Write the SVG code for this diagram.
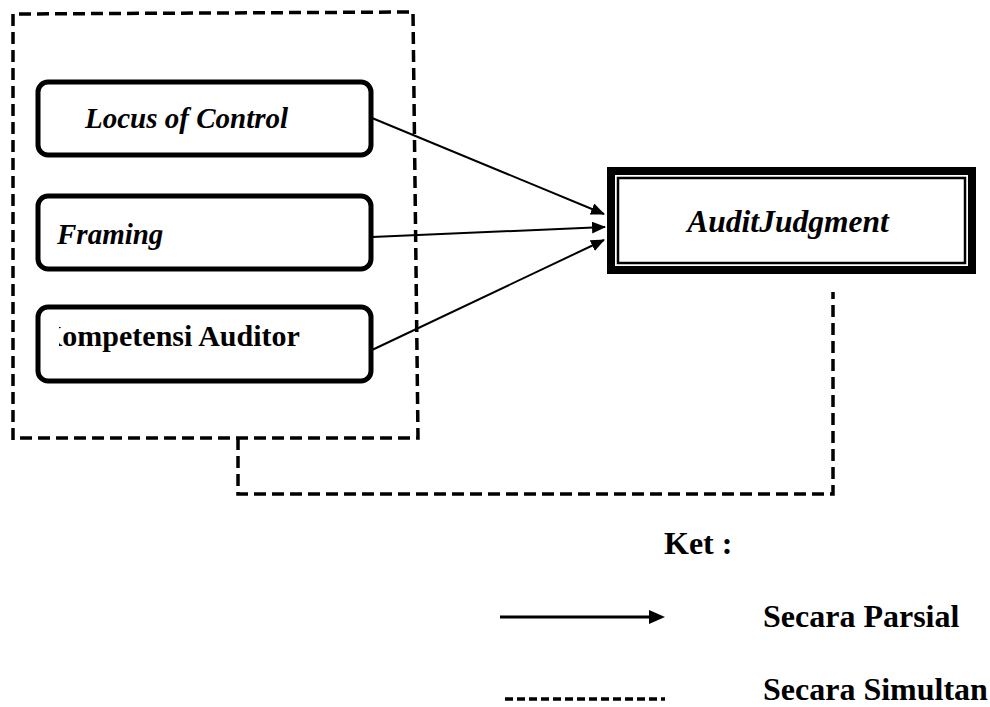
<svg xmlns="http://www.w3.org/2000/svg" width="990" height="707" viewBox="0 0 990 707">
<style>
.node{fill:#fff;stroke:#000;stroke-width:5}
.lbl{font-family:"Liberation Serif","Times New Roman",serif;font-weight:bold;fill:#000}
.it{font-style:italic}
.dash{fill:none;stroke:#000;stroke-width:3.5;stroke-dasharray:12 6}
.arr{stroke:#000;stroke-width:2;fill:none;marker-end:url(#ah)}
</style>
<defs>
<marker id="ah" markerWidth="14" markerHeight="12" refX="13" refY="6" orient="auto" markerUnits="userSpaceOnUse">
<path d="M0,0 L14,6 L0,12 z" fill="#000"/>
</marker>
<clipPath id="kclip"><rect x="59" y="300" width="320" height="90"/></clipPath>
</defs>
<rect width="990" height="707" fill="#fff"/>
<g id="simultan-frame">
<path class="dash" d="M13,440 L13,14 L413,12 L418,438 L13,438"/>
</g>
<g id="connectors">
<path class="dash" d="M238,438 L238,494 L833,494 L833,292"/>
<line class="arr" x1="372" y1="118" x2="604" y2="214"/>
<line class="arr" x1="372" y1="237" x2="605" y2="227"/>
<line class="arr" x1="372" y1="350" x2="604" y2="240"/>
</g>
<g id="locus">
<rect class="node" x="38" y="82" width="333" height="73" rx="10"/>
<text class="lbl it" x="85" y="128" font-size="29">Locus of Control</text>
</g>
<g id="framing">
<rect class="node" x="38" y="196" width="333" height="73" rx="10"/>
<text class="lbl it" x="57" y="244" font-size="29">Framing</text>
</g>
<g id="kompetensi">
<rect class="node" x="38" y="307" width="333" height="74" rx="10"/>
<text class="lbl" x="39" y="346" font-size="30" clip-path="url(#kclip)">Kompetensi Auditor</text>
</g>
<g id="audit">
<rect x="611" y="171" width="361" height="99" fill="#fff" stroke="#000" stroke-width="8"/>
<rect x="618" y="178" width="347" height="85" fill="none" stroke="#000" stroke-width="2.5"/>
<text class="lbl it" x="788" y="232" font-size="31.5" text-anchor="middle">AuditJudgment</text>
</g>
<g id="legend">
<text class="lbl" x="664" y="554" font-size="32">Ket :</text>
<line x1="500" y1="617" x2="652" y2="617" stroke="#000" stroke-width="3"/>
<path d="M649,610 L665,617 L649,624 z" fill="#000"/>
<text class="lbl" x="763" y="627" font-size="32">Secara Parsial</text>
<line x1="505" y1="699" x2="665" y2="699" stroke="#000" stroke-width="3.5" stroke-dasharray="8 4"/>
<text class="lbl" x="763" y="700" font-size="32">Secara Simultan</text>
</g>
</svg>
